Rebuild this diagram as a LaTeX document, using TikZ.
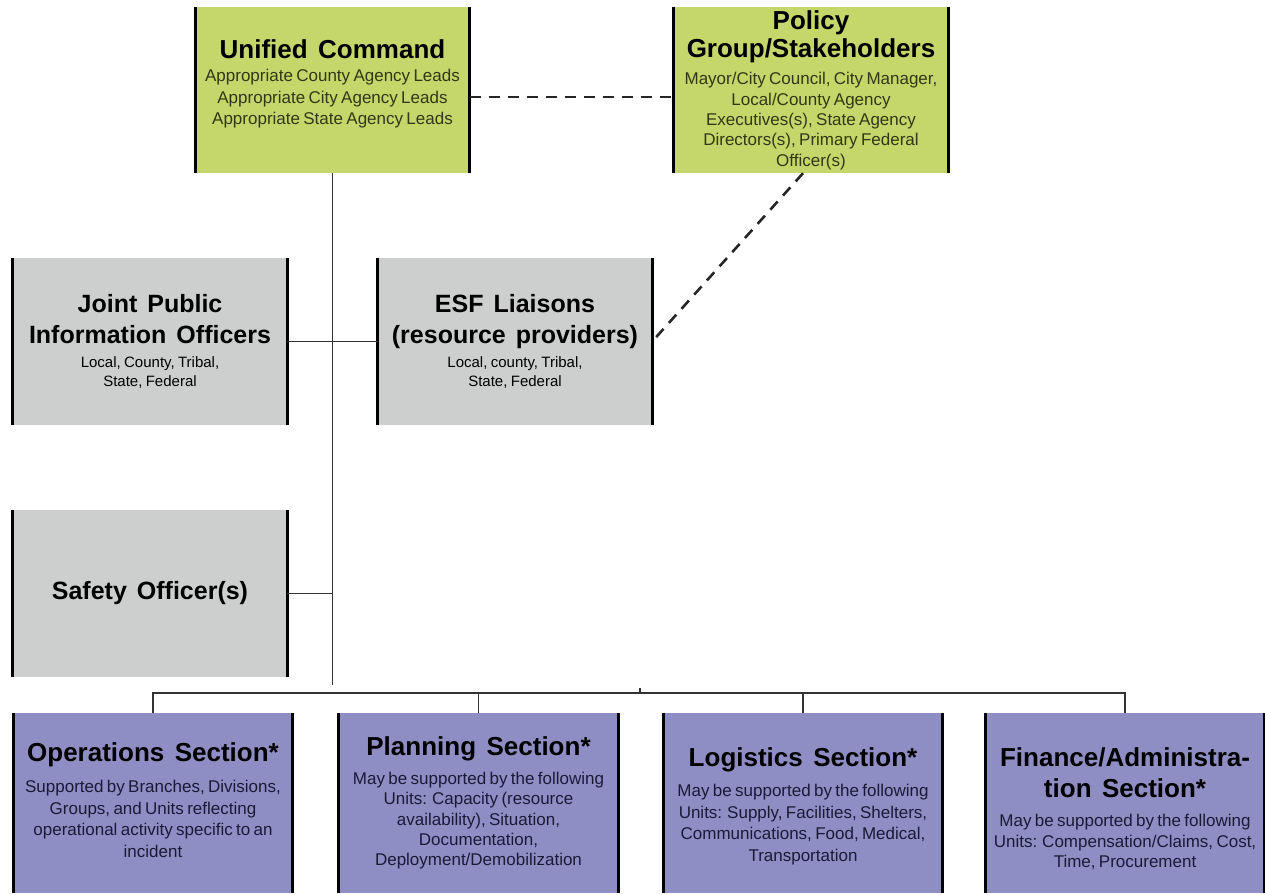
\documentclass[tikz,border=0pt]{standalone}
\usepackage{fontspec}
\setmainfont{Liberation Sans}

\definecolor{cmdgreen}{RGB}{197,214,106}
\definecolor{staffgray}{RGB}{205,207,207}
\definecolor{secblue}{RGB}{142,142,196}
\definecolor{oliveink}{RGB}{50,56,22}
\definecolor{navyink}{RGB}{26,26,56}

% heading and detail blocks inside the org boxes
\newcommand\headline[3]{{\fontsize{#1}{#2}\selectfont\bfseries\spaceskip=0.4em\relax #3\par}}
\newcommand\detail[4]{\vspace{#1}{\fontsize{#2}{#3}\selectfont #4\par}}
% extra space below the text block (negative values move the block down)
\newcommand\lift[1]{\par\nointerlineskip\vspace{#1}\hbox{}}

\tikzset{
  sideedge/.style={draw=black, line width=3.2pt},
  orgbox/.style={rectangle, inner xsep=2pt, inner ysep=0pt, align=center,
    append after command={
      (\tikzlastnode.north west) edge[sideedge] (\tikzlastnode.south west)
      (\tikzlastnode.north east) edge[sideedge] (\tikzlastnode.south east)}},
  cmdbox/.style={orgbox, fill=cmdgreen, text width=270pt, minimum width=274pt, minimum height=166pt},
  staffbox/.style={orgbox, fill=staffgray, text width=270pt, minimum width=274pt, minimum height=167pt},
  secbox/.style={orgbox, fill=secblue, text width=275pt, minimum width=279pt, minimum height=180pt},
  link/.style={draw=black!80, line width=1.3pt},
  dashlink/.style={draw=black!85, line width=2.6pt, dash pattern=on 11pt off 8pt}
}

\begin{document}
\begin{tikzpicture}[x=1pt, y=-1pt]
\useasboundingbox (0,0) rectangle (1265,894);

% command level
\node[cmdbox] (uc) at (332.5,90) {%
  \headline{26}{29}{Unified Command}%
  \detail{1.5pt}{17}{21.5}{\color{oliveink}Appropriate County Agency Leads\\
    Appropriate City Agency Leads\\ Appropriate State Agency Leads}\lift{12pt}};
\node[cmdbox] (pol) at (811,90) {%
  \headline{26}{28}{Policy\\ Group/Stakeholders}%
  \detail{7.5pt}{17}{20.3}{\color{oliveink}Mayor/City Council, City Manager,\\
    Local/County Agency\\ Executives(s), State Agency\\
    Directors(s), Primary Federal\\ Officer(s)}};

% command staff
\node[staffbox] (jpio) at (150,341.5) {%
  \headline{25}{31}{Joint Public\\ Information Officers}%
  \detail{4.5pt}{15}{19}{Local, County, Tribal,\\ State, Federal}};
\node[staffbox] (esf) at (515,341.5) {%
  \headline{25}{31}{ESF Liaisons\\ (resource providers)}%
  \detail{4.5pt}{15}{19}{Local, county, Tribal,\\ State, Federal}};
\node[staffbox] (safety) at (150,593.5) {\headline{25}{31}{Safety Officer(s)}};

% general staff sections
\node[secbox] (ops) at (153,803) {%
  \headline{26}{31}{Operations Section*}%
  \detail{10pt}{17}{21.5}{\color{navyink}Supported by Branches, Divisions,\\
    Groups, and Units reflecting\\ operational activity specific to an\\ incident}\lift{6pt}};
\node[secbox] (plan) at (478.5,803) {%
  \headline{26}{31}{Planning Section*}%
  \detail{8.5pt}{17}{20.3}{\color{navyink}May be supported by the following\\
    Units: Capacity (resource\\ availability), Situation,\\ Documentation,\\
    Deployment/Demobilization}};
\node[secbox] (log) at (803,803) {%
  \headline{26}{31}{Logistics Section*}%
  \detail{8.5pt}{17}{21.5}{\color{navyink}May be supported by the following\\
    Units: Supply, Facilities, Shelters,\\ Communications, Food, Medical,\\
    Transportation}\lift{-7pt}};
\node[secbox] (fin) at (1125,803) {%
  \headline{26}{31}{Finance/Administra-\\ tion Section*}%
  \detail{8.5pt}{17}{20.5}{\color{navyink}May be supported by the following\\
    Units: Compensation/Claims, Cost,\\ Time, Procurement}\lift{-12pt}};

% reporting lines
\coordinate (stem) at (332.5,685);
\coordinate (bus) at (0,693);
\coordinate (tick) at (640,688);
\draw[link] (uc.south) -- (stem);
\draw[link] (jpio.east) -- (esf.west);
\draw[link] (safety.east) -- (safety.east -| uc.south);
\draw[link] (ops.north) -- (ops.north |- bus) -- (fin.north |- bus) -- (fin.north);
\draw[link] (plan.north) -- (plan.north |- bus);
\draw[link] (log.north) -- (log.north |- bus);
\draw[link] (tick) -- (tick |- bus);

% coordination lines
\draw[dashlink] ([yshift=-7pt]uc.east) -- ([yshift=-7pt]pol.west);
\draw[dashlink] ([xshift=-8pt]pol.south) -- (esf.east);
\end{tikzpicture}
\end{document}
